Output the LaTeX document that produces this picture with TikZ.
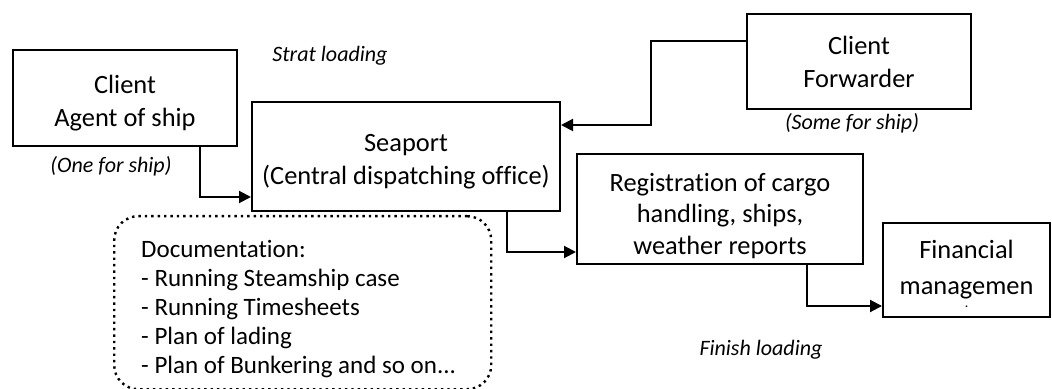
\documentclass[tikz,border=0pt]{standalone}
\usepackage{fontspec}
\setmainfont{Carlito}[Ligatures=NoCommon]
\usepackage{tikz}
\usetikzlibrary{arrows.meta,positioning,calc}
\newcommand{\lift}[1]{\rule{0pt}{#1}}

\begin{document}
\begin{tikzpicture}[x=0.5pt, y=-0.5pt, >={Triangle[length=6pt,width=6pt]},
  box/.style={draw, line width=1pt, align=center, font=\fontsize{13.2}{16.5}\selectfont, inner sep=0pt},
  note/.style={font=\fontsize{11}{13}\selectfont\itshape},
  link/.style={->, line width=1pt}]
  \useasboundingbox (0,0) rectangle (1052,389);
  % boxes
  \node[box, minimum width=224*0.5pt, minimum height=96*0.5pt] (agent) at (125,98)
    {\lift{14.5pt}Client\\ Agent of ship};
  \node[box, minimum width=308*0.5pt, minimum height=109*0.5pt] (seaport) at (406,156.5)
    {\lift{13.6pt}Seaport\\ (Central dispatching office)};
  \node[box, minimum width=224*0.5pt, minimum height=95*0.5pt] (fwd) at (859,61.5)
    {Client\\ Forwarder};
  \node[box, minimum width=286*0.5pt, minimum height=110*0.5pt] (reg) at (720,209) {};
  \node[align=center, font=\fontsize{13.2}{15.8}\selectfont] (regtext) at ($(reg.center)+(0,7)$)
    {Registration of cargo\\ handling, ships,\\ weather reports};
  \node[box, minimum width=167*0.5pt, minimum height=94*0.5pt] (fin) at (966.5,270)
    {\lift{13.5pt}Financial\\[1.5pt] managemen\\[-10pt] {\scriptsize .}};
  \node[draw, dotted, line width=1.2pt, rounded corners=12pt, anchor=north west,
    minimum width=377*0.5pt, minimum height=173*0.5pt, text width=323*0.5pt,
    inner xsep=13.5pt, inner ysep=0pt, align=flush left, font=\fontsize{12.5}{14.5}\selectfont] (docs) at (113,215)
    {\lift{14.5pt}Documentation:\\ - Running Steamship case\\ - Running Timesheets\\ - Plan of lading\\ - Plan of Bunkering and so on...};
  % labels
  \node[note] (start) at (330,56) {Strat loading};
  \node[note] (finish) at (761,350) {Finish loading};
  \node[note] (one) at (111,166) {(One for ship)};
  \node[note] (some) at (852,123) {(Some for ship)};
  % connectors
  \draw[link] ($(agent.south east)+(-38,0)$) |- ($(seaport.south west)+(0,-15)$);
  \draw[link] ($(fwd.north west)+(0,28)$) -- ++(-95,0) |- ($(seaport.north east)+(0,24)$);
  \draw[link] ($(seaport.south east)+(-54,0)$) |- ($(reg.south west)+(0,-13)$);
  \draw[link] ($(reg.south east)+(-57,0)$) |- ($(fin.south west)+(0,-12)$);
\end{tikzpicture}
\end{document}
